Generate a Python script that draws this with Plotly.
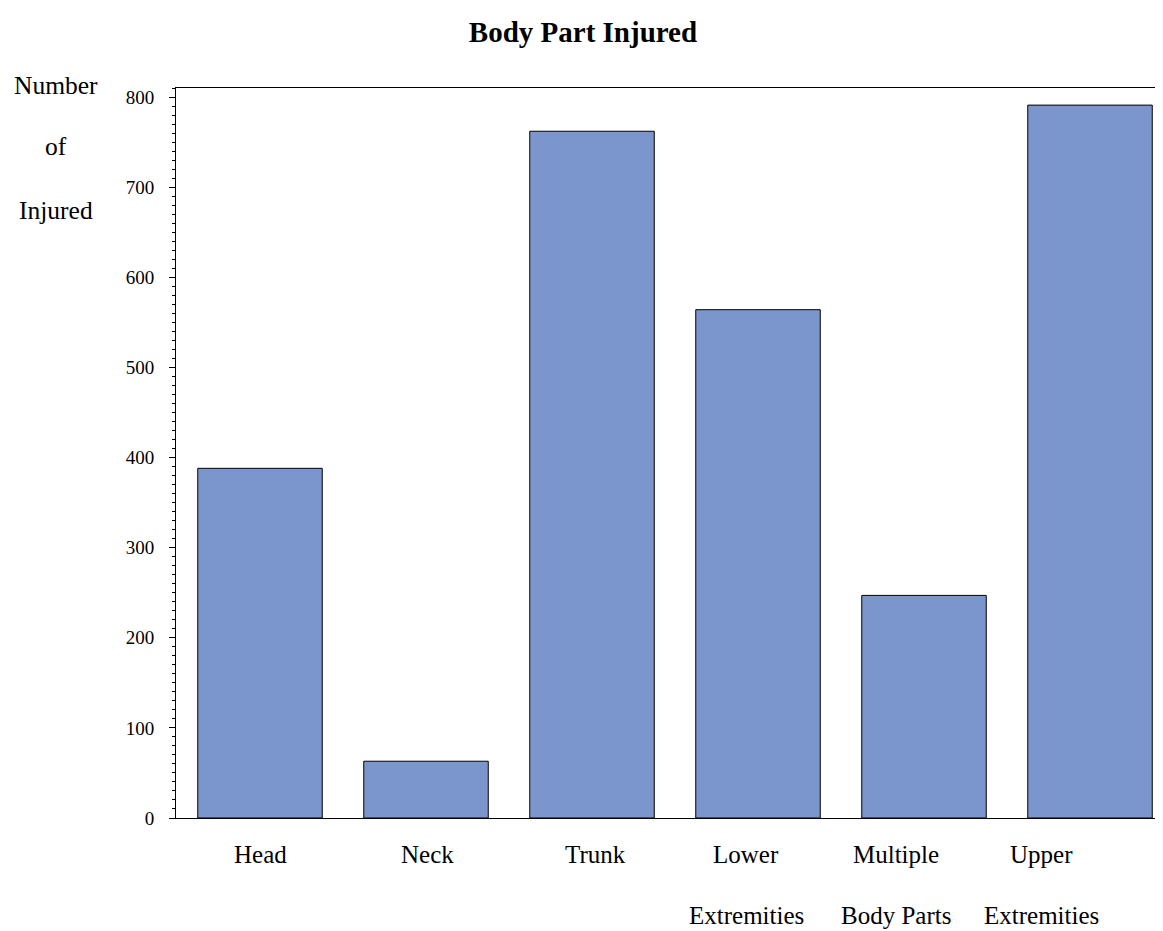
import plotly.graph_objects as go

categories = ["Head", "Neck", "Trunk", "Lower Extremities", "Multiple Body Parts", "Upper Extremities"]
label_line1 = ["Head", "Neck", "Trunk", "Lower", "Multiple", "Upper"]
label_line2 = ["", "", "", "Extremities", "Body Parts", "Extremities"]
values = [388, 63, 762, 564, 247, 791]
y_ticks = [0, 100, 200, 300, 400, 500, 600, 700, 800]

# layout: screen x-centres of the category labels (px)
label_x_px = [260, 427, 595, 746, 896, 1041]

FONT = "Liberation Serif, Times New Roman, serif"

# screen geometry (page body has an 8px offset)
OFF = 8
plot_left, plot_right = 176, 1171
plot_top, plot_bottom = 88, 818

def py2paper(py):
    return (plot_bottom - py) / (plot_bottom - plot_top)

def px2paper(px):
    return (px - plot_left) / (plot_right - plot_left)

fig = go.Figure()
fig.add_trace(go.Bar(
    x=list(range(len(categories))), y=values,
    width=0.75,
    marker=dict(color="#7b96cc", line=dict(color="black", width=1)),
    hovertext=categories,
))

ann = []
for a, b, lx in zip(label_line1, label_line2, label_x_px):
    ann.append(dict(x=px2paper(lx), xref="paper", y=py2paper(854), yref="paper", text=a, showarrow=False,
                    font=dict(family=FONT, size=25, color="black"), xanchor="center", yanchor="middle"))
    if b:
        ann.append(dict(x=px2paper(lx), xref="paper", y=py2paper(915), yref="paper", text=b, showarrow=False,
                        font=dict(family=FONT, size=25, color="black"), xanchor="center", yanchor="middle"))

for txt, py in [("Number", 85), ("of", 147), ("Injured", 210)]:
    ann.append(dict(x=px2paper(56), xref="paper", y=py2paper(py), yref="paper",
                    text=txt, showarrow=False, font=dict(family=FONT, size=25.5, color="black"),
                    xanchor="center", yanchor="middle"))

H = 931
fig.update_layout(
    width=1163, height=H,
    margin=dict(l=plot_left - OFF, r=0, t=plot_top - OFF, b=H + OFF - plot_bottom),
    plot_bgcolor="white", paper_bgcolor="white",
    showlegend=False,
    title=dict(text="<b>Body Part Injured</b>", x=(583 - OFF) / 1163,
               xanchor="center", y=1 - (32 - OFF) / H, yanchor="middle",
               font=dict(family=FONT, size=29, color="black")),
    annotations=ann,
    xaxis=dict(range=[-0.506, (plot_right - 260) / 166], showticklabels=False, ticks="", showline=True, mirror=True,
               linecolor="black", linewidth=1, showgrid=False, zeroline=False, fixedrange=True),
    yaxis=dict(range=[0, 810], tickvals=y_ticks, ticks="outside", ticklen=6, tickcolor="black",
               showline=True, linecolor="black", linewidth=1, showgrid=False, zeroline=False,
               ticklabelstandoff=11,
               tickfont=dict(family=FONT, size=19, color="black"),
               minor=dict(dtick=10, ticks="outside", ticklen=3, tickcolor="black")),
)

fig.write_html("out.html")
